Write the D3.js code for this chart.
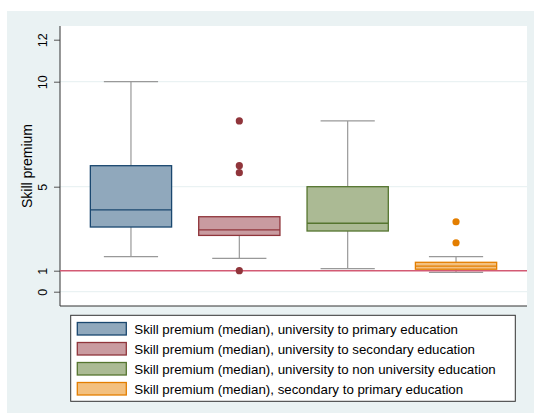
<!DOCTYPE html>
<html><head><meta charset="utf-8">
<script src="https://cdn.jsdelivr.net/npm/d3@7"></script>
<style>body{margin:0;background:#fff}svg{display:block}text{font-family:"Liberation Sans",Arial,sans-serif}</style>
</head><body>
<script>
const categories = ["Skill premium (median), university to primary education",
  "Skill premium (median), university to secondary education",
  "Skill premium (median), university to non university education",
  "Skill premium (median), secondary to primary education"];
const q1 = [3.08, 2.68, 2.89, 1.07];
const medians = [3.9, 2.94, 3.26, 1.22];
const q3 = [6.0, 3.57, 5.0, 1.4];
const whiskerLow = [1.67, 1.59, 1.1, 0.92];
const whiskerHigh = [10.0, 3.57, 8.13, 1.67];
const outliers = [[], [8.13, 6.0, 5.67, 1.0], [], [3.33, 2.33]];
const yTicks = [0, 1, 5, 10, 12];
const gridTicks = [0, 5, 10];
const refLine = 1;
const fills = ["#90a8bc", "#c99ba0", "#abba94", "#f3c07f"];
const strokes = ["#1a476f", "#90353b", "#55752f", "#e37e00"];

const W = 534, H = 413;
const svg = d3.select("body").append("svg").attr("width", W).attr("height", H);
svg.append("rect").attr("x", 7).attr("y", 11).attr("width", W - 7).attr("height", H - 11).attr("fill", "#eaf2f3");
const L = 60, R = 527, T = 26, B = 306;
svg.append("rect").attr("x", L).attr("y", T).attr("width", R - L).attr("height", B - T).attr("fill", "#fff");

const y = d3.scaleLinear().domain([-0.681, 12.652]).range([B, T]);
const x = d3.scaleBand().domain(categories).range([L, R]).paddingInner(0.25).paddingOuter(0.28);

// grid
svg.append("g").selectAll("line").data(gridTicks).join("line")
  .attr("x1", L).attr("x2", R).attr("y1", d => y(d)).attr("y2", d => y(d))
  .attr("stroke", "#eaf2f3").attr("stroke-width", 1.2);

// y axis
const ax = svg.append("g").attr("transform", `translate(${L},0)`)
  .call(d3.axisLeft(y).tickValues(yTicks).tickSize(6).tickPadding(3).tickFormat(d3.format("d")));
ax.select(".domain").remove();
ax.selectAll(".tick line").attr("stroke", "#555");
ax.selectAll(".tick text").attr("font-size", 12.5).attr("fill", "#000")
  .attr("text-anchor", "middle").attr("dy", null).attr("x", null)
  .attr("transform", "translate(-13.5,0) rotate(-90)");
svg.append("line").attr("x1", L).attr("x2", L).attr("y1", T).attr("y2", B).attr("stroke", "#333").attr("stroke-width", 1);
svg.append("line").attr("x1", L).attr("x2", R).attr("y1", B).attr("y2", B).attr("stroke", "#333").attr("stroke-width", 1);

svg.append("text").attr("transform", `translate(32,${(T + B) / 2}) rotate(-90)`)
  .attr("text-anchor", "middle").attr("font-size", 14).attr("fill", "#000").text("Skill premium");

const bw = x.bandwidth(), cw = bw * 0.667;
const g = svg.append("g");
categories.forEach((c, i) => {
  const cx = x(c) + bw / 2;
  g.append("line").attr("x1", cx).attr("x2", cx).attr("y1", y(q3[i])).attr("y2", y(whiskerHigh[i])).attr("stroke", "#999").attr("stroke-width", 1.2);
  g.append("line").attr("x1", cx).attr("x2", cx).attr("y1", y(q1[i])).attr("y2", y(whiskerLow[i])).attr("stroke", "#999").attr("stroke-width", 1.2);
  if (whiskerHigh[i] > q3[i]) g.append("line").attr("x1", cx - cw / 2).attr("x2", cx + cw / 2).attr("y1", y(whiskerHigh[i])).attr("y2", y(whiskerHigh[i])).attr("stroke", "#999").attr("stroke-width", 1.2);
  g.append("line").attr("x1", cx - cw / 2).attr("x2", cx + cw / 2).attr("y1", y(whiskerLow[i])).attr("y2", y(whiskerLow[i])).attr("stroke", "#999").attr("stroke-width", 1.2);
  g.append("rect").attr("x", x(c)).attr("width", bw).attr("y", y(q3[i])).attr("height", y(q1[i]) - y(q3[i]))
    .attr("fill", fills[i]).attr("stroke", strokes[i]).attr("stroke-width", 1.3);
  g.append("line").attr("x1", x(c)).attr("x2", x(c) + bw).attr("y1", y(medians[i])).attr("y2", y(medians[i])).attr("stroke", strokes[i]).attr("stroke-width", 1.3);
});

// reference line
svg.append("line").attr("x1", L).attr("x2", R).attr("y1", y(refLine)).attr("y2", y(refLine)).attr("stroke", "#d35a74").attr("stroke-width", 1.5);

categories.forEach((c, i) => {
  const cx = x(c) + bw / 2;
  svg.append("g").selectAll("circle").data(outliers[i]).join("circle")
    .attr("cx", cx).attr("cy", d => y(d)).attr("r", 3.6).attr("fill", strokes[i]);
});

// legend
const lg = svg.append("g");
lg.append("rect").attr("x", 70.7).attr("y", 315.3).attr("width", 444.6).attr("height", 86).attr("fill", "#fff").attr("stroke", "#333").attr("stroke-width", 1);
categories.forEach((c, i) => {
  lg.append("rect").attr("x", 77.3).attr("y", 322.5 + i * 20).attr("width", 49).attr("height", 12.5)
    .attr("fill", fills[i]).attr("stroke", strokes[i]).attr("stroke-width", 1.3);
  lg.append("text").attr("x", 134.3).attr("y", 333.8 + i * 20).attr("font-size", 13.3).attr("fill", "#000").text(c);
});
</script>
</body></html>
